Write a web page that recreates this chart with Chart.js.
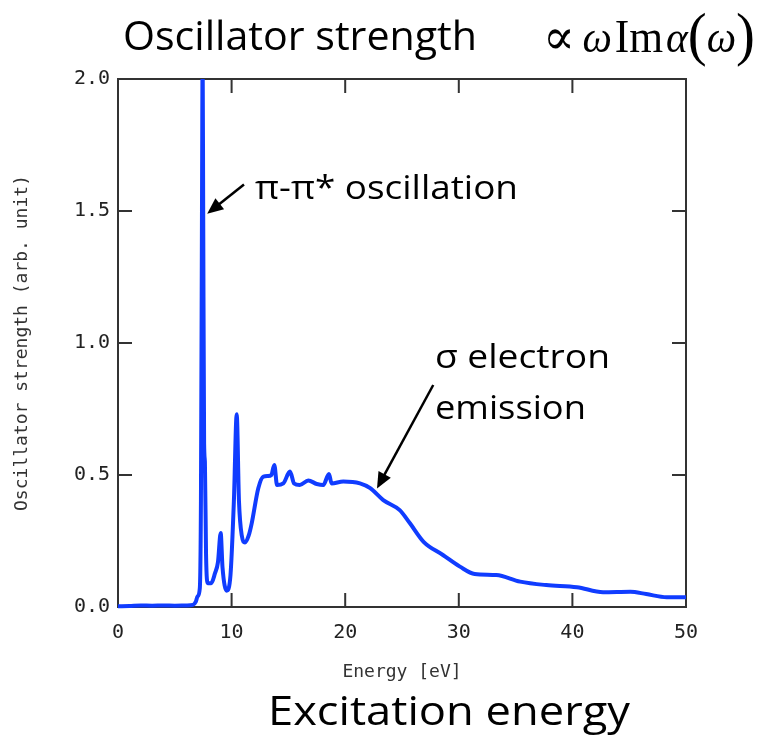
<!DOCTYPE html>
<html>
<head>
<meta charset="utf-8">
<script src="https://cdn.jsdelivr.net/npm/chart.js@4.4.0/dist/chart.umd.min.js"></script>
<style>
  html, body { margin: 0; padding: 0; background: #fff; }
  #wrap { width: 757px; height: 746px; position: relative; }
</style>
</head>
<body>
<div id="wrap"><canvas id="oscChart"></canvas></div>
<script>
// spectrum (eV, arb. unit)
const energy = [0, 1, 2, 3, 4, 5, 6, 6.6, 6.85, 7.0, 7.2, 7.3, 7.4, 7.45, 7.5, 7.58, 7.65, 7.75, 7.9,
  8.2, 8.54, 8.8, 9.04, 9.2, 9.57, 9.9, 10.2, 10.45, 10.65, 10.9, 11.18, 11.5, 11.77, 12.35, 12.8,
  13.2, 13.5, 13.76, 14.0, 14.55, 15.14, 15.5, 16.0, 16.75, 17.5, 18.07, 18.57, 18.8, 19.83, 21.3,
  22.2, 23.35, 24.8, 25.7, 26.9, 28.6, 30.1, 31.4, 33.3, 35.4, 37.7, 40.4, 42.7, 45.1, 46.5, 48.3, 50];
const strength = [0.003, 0.004, 0.006, 0.005, 0.006, 0.005, 0.006, 0.008, 0.02, 0.04, 0.07, 0.4, 1.6, 2.1, 1.5, 0.62, 0.55, 0.2, 0.09,
  0.09, 0.128, 0.17, 0.28, 0.15, 0.062, 0.12, 0.4, 0.73, 0.4, 0.27, 0.244, 0.27, 0.317, 0.45, 0.494,
  0.496, 0.5, 0.538, 0.462, 0.468, 0.513, 0.468, 0.462, 0.479, 0.466, 0.462, 0.504, 0.468, 0.475, 0.468,
  0.45, 0.405, 0.367, 0.317, 0.247, 0.197, 0.153, 0.125, 0.121, 0.096, 0.083, 0.075, 0.056, 0.058, 0.049, 0.037, 0.037];

const xTicks = [0, 10, 20, 30, 40, 50];
const yTicks = [0, 0.5, 1.0, 1.5, 2.0];
const yTickLabels = ["0.0", "0.5", "1.0", "1.5", "2.0"];

const LINE_BLUE = "rgb(16, 60, 255)";
const FRAME = "#333";
const SANS = "'Open Sans', 'Noto Sans', sans-serif";
const MONO = "'DejaVu Sans Mono', monospace";

// draw text squeezed to a given width (the original uses a narrow font)
function fitText(ctx, text, x, y, width, font) {
  ctx.font = font;
  const w = ctx.measureText(text).width;
  ctx.save();
  ctx.translate(x, y);
  ctx.scale(width / w, 1);
  ctx.fillText(text, 0, 0);
  ctx.restore();
}

function arrow(ctx, x1, y1, x2, y2) {
  const a = Math.atan2(y2 - y1, x2 - x1);
  const len = 16, half = 7;
  ctx.beginPath();
  ctx.moveTo(x1, y1);
  ctx.lineTo(x2 - Math.cos(a) * len * 0.8, y2 - Math.sin(a) * len * 0.8);
  ctx.stroke();
  ctx.beginPath();
  ctx.moveTo(x2, y2);
  ctx.lineTo(x2 - Math.cos(a) * len - Math.sin(a) * half, y2 - Math.sin(a) * len + Math.cos(a) * half);
  ctx.lineTo(x2 - Math.cos(a) * len + Math.sin(a) * half, y2 - Math.sin(a) * len - Math.cos(a) * half);
  ctx.closePath();
  ctx.fill();
}

const framePlugin = {
  id: "framePlugin",
  beforeDatasetsDraw(chart) {
    const { ctx, chartArea: a, scales: { x, y } } = chart;
    const tl = 14;
    ctx.save();
    ctx.strokeStyle = FRAME;
    ctx.lineWidth = 2;
    ctx.strokeRect(a.left, a.top, a.right - a.left, a.bottom - a.top);
    ctx.beginPath();
    xTicks.forEach(v => {
      const px = x.getPixelForValue(v);
      ctx.moveTo(px, a.bottom); ctx.lineTo(px, a.bottom - tl);
      ctx.moveTo(px, a.top); ctx.lineTo(px, a.top + tl);
    });
    yTicks.forEach(v => {
      const py = y.getPixelForValue(v);
      ctx.moveTo(a.left, py); ctx.lineTo(a.left + tl, py);
      ctx.moveTo(a.right, py); ctx.lineTo(a.right - tl, py);
    });
    ctx.stroke();
    ctx.restore();
  }
};

const textPlugin = {
  id: "textPlugin",
  afterDraw(chart) {
    const { ctx, scales: { x, y } } = chart;
    ctx.save();
    ctx.fillStyle = "#000";
    ctx.strokeStyle = "#000";
    ctx.textBaseline = "alphabetic";
    ctx.textAlign = "left";

    // headline and bottom caption
    fitText(ctx, "Oscillator strength", 123, 50, 354, "40px " + SANS);
    fitText(ctx, "Excitation energy", 268, 725, 362, "40px " + SANS);

    // formula  ∝ ω Im α(ω)
    const serif = "'Liberation Serif', 'DejaVu Serif', serif";
    const parts = [
      { t: "\u221D", f: "50px " + serif, gap: 8 },
      { t: "\u03C9", f: "italic 44px " + serif, gap: 3 },
      { t: "Im", f: "46px " + serif, gap: 3 },
      { t: "\u03B1", f: "italic 44px " + serif, gap: 0 },
      { t: "(", f: "60px " + serif, gap: 0 },
      { t: "\u03C9", f: "italic 44px " + serif, gap: 0 },
      { t: ")", f: "60px " + serif, gap: 0 }
    ];
    let total = 0;
    parts.forEach(p => { ctx.font = p.f; p.w = ctx.measureText(p.t).width; total += p.w + p.gap; });
    const fx0 = 543, fx1 = 755;
    ctx.save();
    ctx.translate(fx0, 52);
    ctx.scale((fx1 - fx0) / total, 1);
    let cx = 0;
    parts.forEach(p => {
      ctx.font = p.f;
      let dy = 0;
      if (p.t === "(" || p.t === ")") dy = 2;
      if (p.t === "\u221D") dy = 2;
      ctx.fillText(p.t, cx, dy);
      cx += p.w + p.gap;
    });
    ctx.restore();

    // annotations, anchored in data units
    ctx.lineWidth = 2.5;
    fitText(ctx, "\u03C0-\u03C0* oscillation", x.getPixelForValue(12.06), y.getPixelForValue(1.545), 263, "32px " + SANS);
    arrow(ctx, x.getPixelForValue(11.09), y.getPixelForValue(1.60), x.getPixelForValue(7.85), y.getPixelForValue(1.49));

    fitText(ctx, "\u03C3 electron", x.getPixelForValue(27.9), y.getPixelForValue(0.905), 175, "33px " + SANS);
    fitText(ctx, "emission", x.getPixelForValue(27.9), y.getPixelForValue(0.712), 151, "33px " + SANS);
    arrow(ctx, x.getPixelForValue(27.75), y.getPixelForValue(0.841), x.getPixelForValue(22.8), y.getPixelForValue(0.449));
    ctx.restore();
  }
};

new Chart(document.getElementById("oscChart"), {
  type: "line",
  data: {
    datasets: [{
      data: energy.map((e, i) => ({ x: e, y: strength[i] })),
      borderColor: LINE_BLUE,
      borderWidth: 4,
      pointRadius: 0,
      fill: false,
      cubicInterpolationMode: "monotone",
      clip: { left: 4, top: 0, right: 4, bottom: 4 }
    }]
  },
  options: {
    responsive: true,
    maintainAspectRatio: false,
    animation: false,
    layout: { padding: { top: 79, right: 71, bottom: 0, left: 0 } },
    plugins: { legend: { display: false }, tooltip: { enabled: false } },
    scales: {
      x: {
        type: "linear",
        min: 0,
        max: 50,
        afterBuildTicks: s => { s.ticks = xTicks.map(v => ({ value: v })); },
        afterFit: s => { s.height = 139; },
        grid: { display: false, drawTicks: false },
        border: { display: false },
        ticks: {
          autoSkip: false, maxRotation: 0, padding: 14, color: "#222",
          font: { family: MONO, size: 20 }
        },
        title: {
          display: true, text: "Energy [eV]", color: "#333",
          font: { family: MONO, size: 18 }, padding: { top: 0, bottom: 63 }
        }
      },
      y: {
        min: 0,
        max: 2,
        afterBuildTicks: s => { s.ticks = yTicks.map(v => ({ value: v })); },
        afterFit: s => { s.width = 118; },
        grid: { display: false, drawTicks: false },
        border: { display: false },
        ticks: {
          autoSkip: false, padding: 8, color: "#222",
          font: { family: MONO, size: 20 },
          callback: v => yTickLabels[yTicks.indexOf(v)]
        },
        title: {
          display: true, text: "Oscillator strength (arb. unit)", color: "#333",
          font: { family: MONO, size: 18 }, padding: { top: 12, bottom: 0 }
        }
      }
    }
  },
  plugins: [framePlugin, textPlugin]
});
</script>
</body>
</html>
